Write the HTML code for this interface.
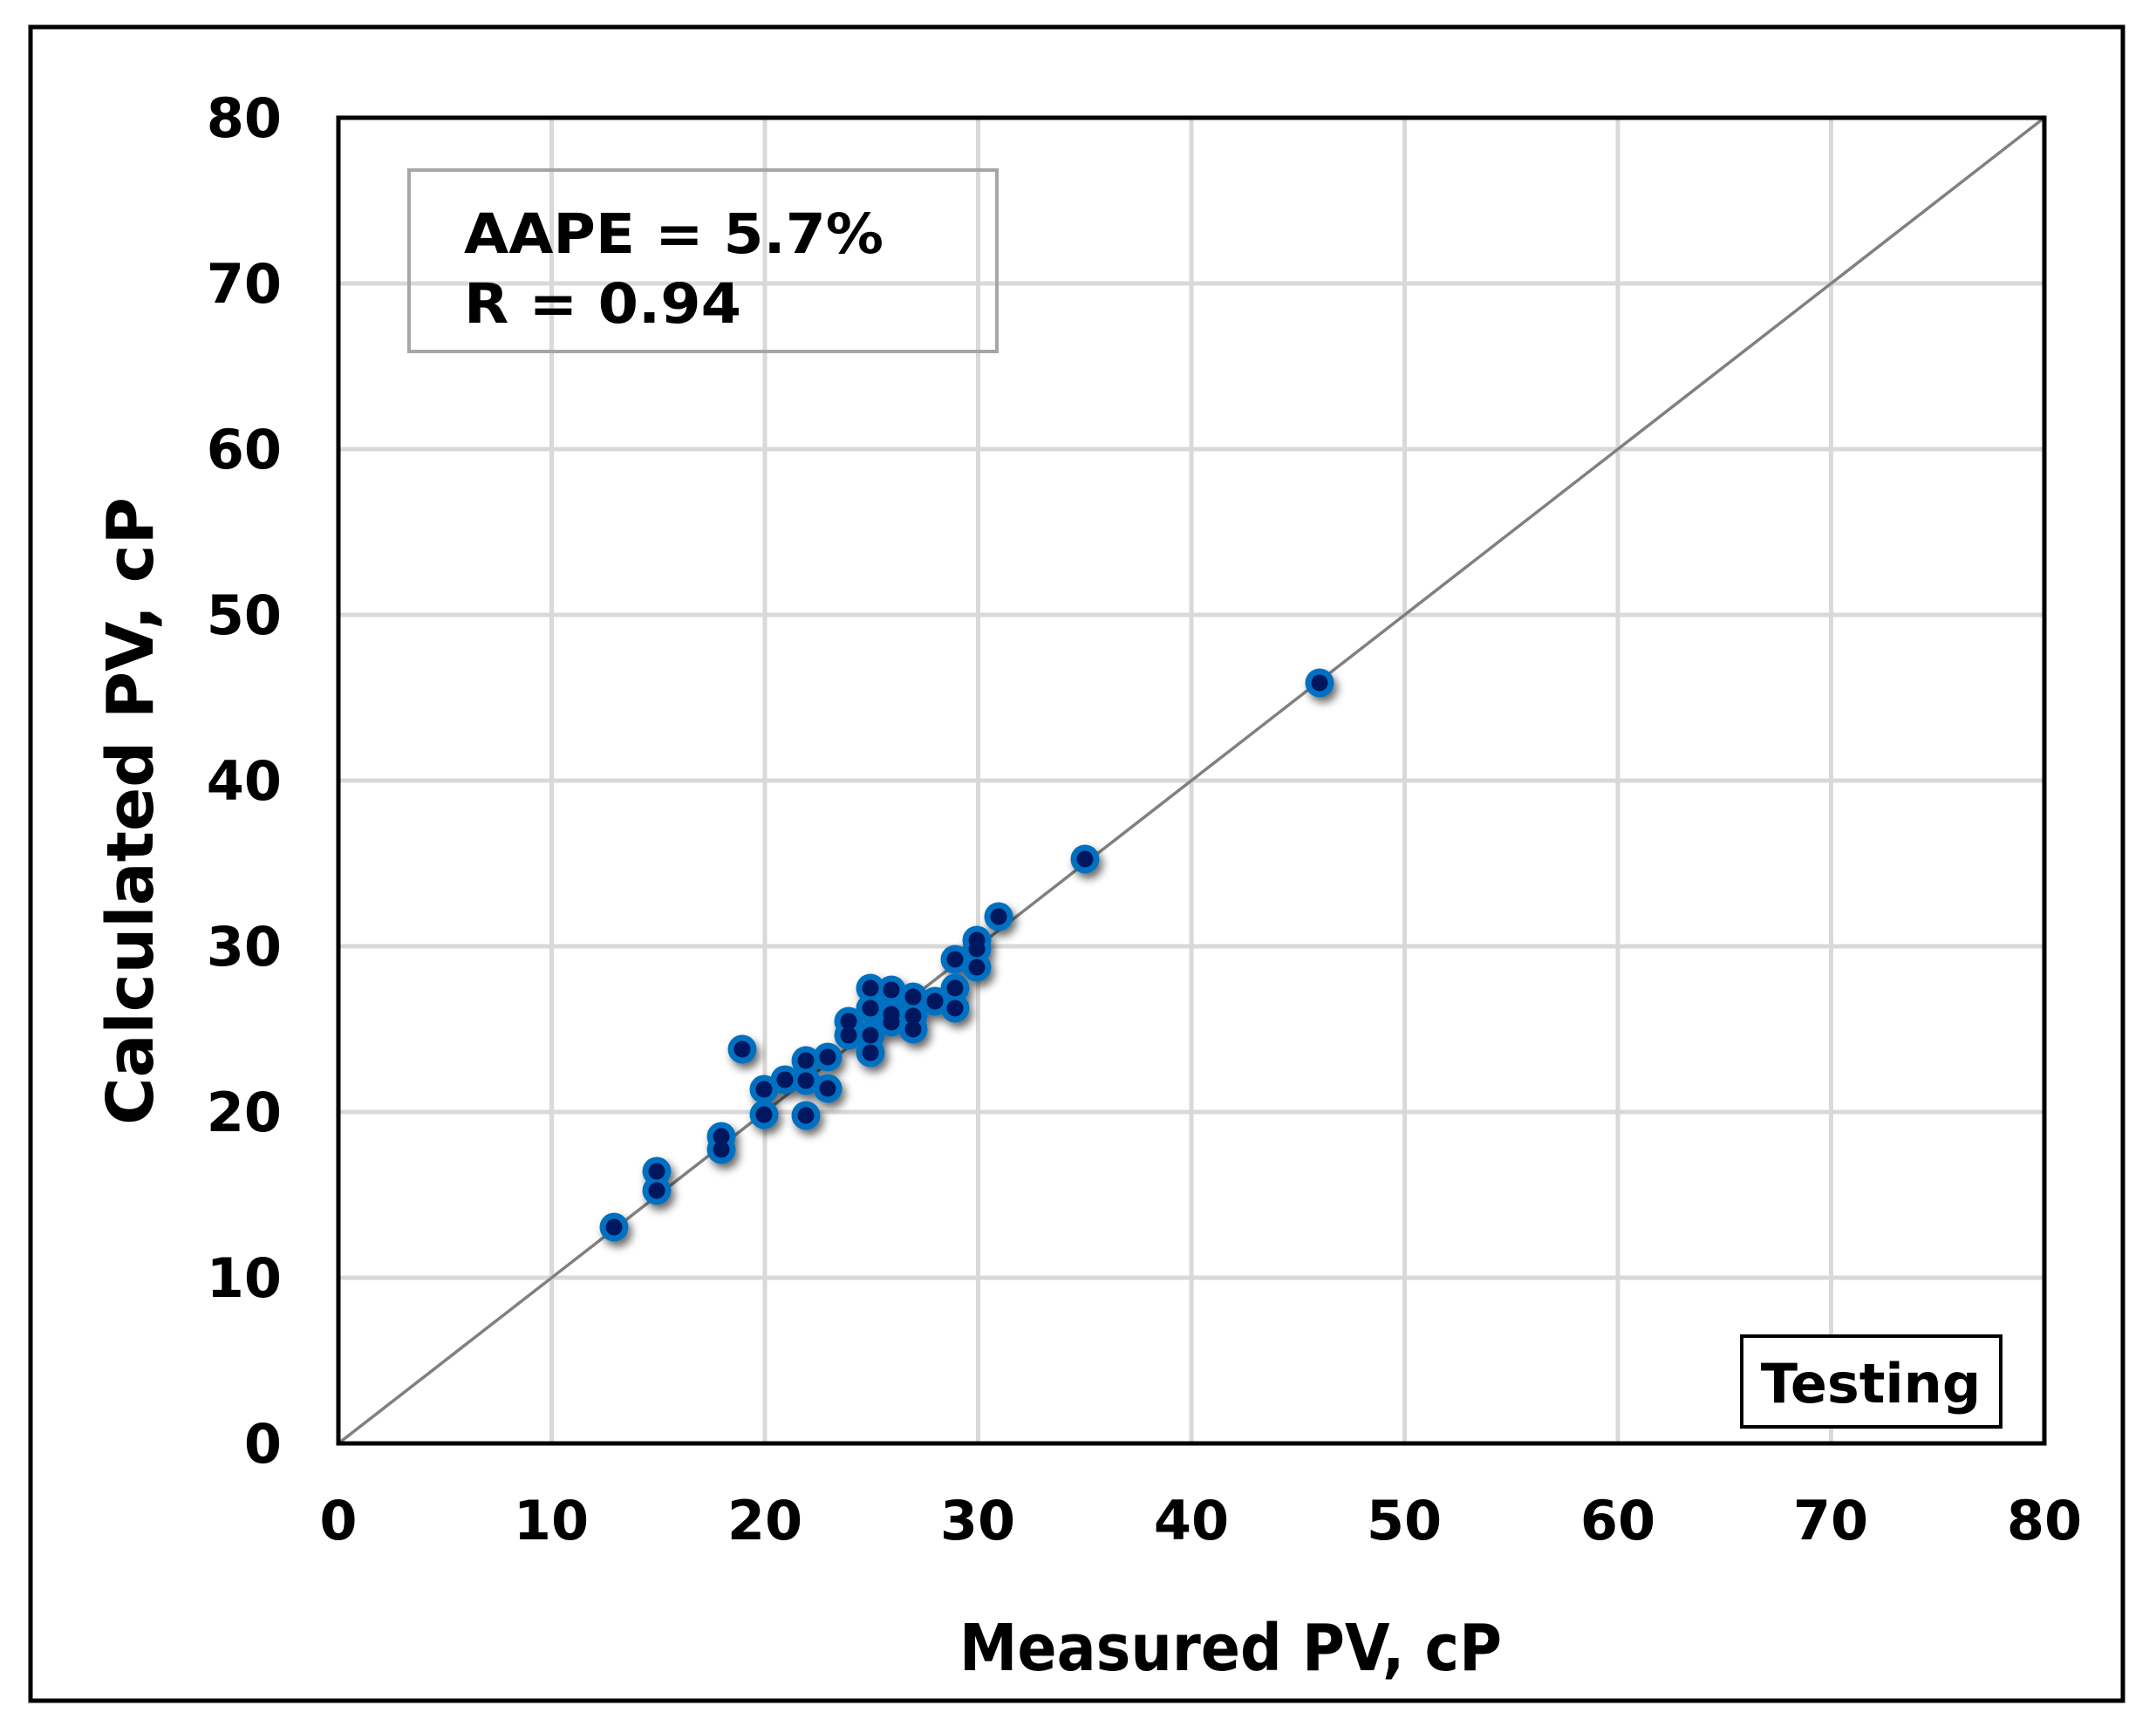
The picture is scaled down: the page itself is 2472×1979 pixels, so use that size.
<!DOCTYPE html>
<html><head><meta charset="utf-8"><style>
html,body{margin:0;padding:0;background:#fff;}
svg{display:block;}
text{font-family:"DejaVu Sans","Liberation Sans",sans-serif;font-weight:bold;fill:#000;}
</style></head><body>
<svg width="2472" height="1979" viewBox="0 0 2472 1979" xmlns="http://www.w3.org/2000/svg">
<defs>
<filter id="sh" x="-50%" y="-50%" width="200%" height="200%">
<feGaussianBlur in="SourceAlpha" stdDeviation="5"/>
<feOffset dx="4" dy="6"/>
<feComponentTransfer><feFuncA type="linear" slope="0.6"/></feComponentTransfer>
<feMerge><feMergeNode/><feMergeNode in="SourceGraphic"/></feMerge>
</filter>
</defs>
<rect x="0" y="0" width="2472" height="1979" fill="#fff"/>
<rect x="35" y="31" width="2399" height="1919" fill="none" stroke="#000" stroke-width="5"/>
<g stroke="#d9d9d9" stroke-width="5">
<line x1="632.5" y1="135" x2="632.5" y2="1655"/>
<line x1="877" y1="135" x2="877" y2="1655"/>
<line x1="1121.5" y1="135" x2="1121.5" y2="1655"/>
<line x1="1366" y1="135" x2="1366" y2="1655"/>
<line x1="1610.5" y1="135" x2="1610.5" y2="1655"/>
<line x1="1855" y1="135" x2="1855" y2="1655"/>
<line x1="2099.5" y1="135" x2="2099.5" y2="1655"/>
<line x1="388" y1="325" x2="2344" y2="325"/>
<line x1="388" y1="515" x2="2344" y2="515"/>
<line x1="388" y1="705" x2="2344" y2="705"/>
<line x1="388" y1="895" x2="2344" y2="895"/>
<line x1="388" y1="1085" x2="2344" y2="1085"/>
<line x1="388" y1="1275" x2="2344" y2="1275"/>
<line x1="388" y1="1465" x2="2344" y2="1465"/>
</g>
<line x1="388" y1="1655" x2="2344" y2="135" stroke="#808080" stroke-width="3.5"/>
<rect x="388" y="135" width="1956" height="1520" fill="none" stroke="#000" stroke-width="5"/>
<g filter="url(#sh)" fill="#0070c0">
<circle cx="704" cy="1407" r="16.5"/><circle cx="753" cy="1365" r="16.5"/><circle cx="753" cy="1343" r="16.5"/>
<circle cx="827" cy="1318" r="16.5"/><circle cx="827" cy="1303" r="16.5"/><circle cx="851" cy="1203" r="16.5"/>
<circle cx="876" cy="1278" r="16.5"/><circle cx="876" cy="1249" r="16.5"/><circle cx="900" cy="1238" r="16.5"/>
<circle cx="924" cy="1216" r="16.5"/><circle cx="924" cy="1239" r="16.5"/><circle cx="924" cy="1279" r="16.5"/>
<circle cx="949" cy="1212" r="16.5"/><circle cx="949" cy="1248" r="16.5"/><circle cx="973" cy="1171" r="16.5"/>
<circle cx="973" cy="1187" r="16.5"/><circle cx="998" cy="1133" r="16.5"/><circle cx="998" cy="1156" r="16.5"/>
<circle cx="998" cy="1187" r="16.5"/><circle cx="998" cy="1207" r="16.5"/><circle cx="1022" cy="1135" r="16.5"/>
<circle cx="1022" cy="1163" r="16.5"/><circle cx="1022" cy="1172" r="16.5"/><circle cx="1047" cy="1143" r="16.5"/>
<circle cx="1047" cy="1165" r="16.5"/><circle cx="1047" cy="1180" r="16.5"/><circle cx="1072" cy="1148" r="16.5"/>
<circle cx="1095" cy="1100" r="16.5"/><circle cx="1095" cy="1133" r="16.5"/><circle cx="1095" cy="1156" r="16.5"/>
<circle cx="1120" cy="1078" r="16.5"/><circle cx="1120" cy="1088" r="16.5"/><circle cx="1120" cy="1109" r="16.5"/>
<circle cx="1145" cy="1051" r="16.5"/><circle cx="1244" cy="985" r="16.5"/><circle cx="1513" cy="783" r="16.5"/>
</g>
<g fill="#00175f">
<circle cx="704" cy="1407" r="9.5"/><circle cx="753" cy="1365" r="9.5"/><circle cx="753" cy="1343" r="9.5"/>
<circle cx="827" cy="1318" r="9.5"/><circle cx="827" cy="1303" r="9.5"/><circle cx="851" cy="1203" r="9.5"/>
<circle cx="876" cy="1278" r="9.5"/><circle cx="876" cy="1249" r="9.5"/><circle cx="900" cy="1238" r="9.5"/>
<circle cx="924" cy="1216" r="9.5"/><circle cx="924" cy="1239" r="9.5"/><circle cx="924" cy="1279" r="9.5"/>
<circle cx="949" cy="1212" r="9.5"/><circle cx="949" cy="1248" r="9.5"/><circle cx="973" cy="1171" r="9.5"/>
<circle cx="973" cy="1187" r="9.5"/><circle cx="998" cy="1133" r="9.5"/><circle cx="998" cy="1156" r="9.5"/>
<circle cx="998" cy="1187" r="9.5"/><circle cx="998" cy="1207" r="9.5"/><circle cx="1022" cy="1135" r="9.5"/>
<circle cx="1022" cy="1163" r="9.5"/><circle cx="1022" cy="1172" r="9.5"/><circle cx="1047" cy="1143" r="9.5"/>
<circle cx="1047" cy="1165" r="9.5"/><circle cx="1047" cy="1180" r="9.5"/><circle cx="1072" cy="1148" r="9.5"/>
<circle cx="1095" cy="1100" r="9.5"/><circle cx="1095" cy="1133" r="9.5"/><circle cx="1095" cy="1156" r="9.5"/>
<circle cx="1120" cy="1078" r="9.5"/><circle cx="1120" cy="1088" r="9.5"/><circle cx="1120" cy="1109" r="9.5"/>
<circle cx="1145" cy="1051" r="9.5"/><circle cx="1244" cy="985" r="9.5"/><circle cx="1513" cy="783" r="9.5"/>
</g>
<rect x="469" y="195" width="674" height="208" fill="none" stroke="#a6a6a6" stroke-width="4"/>
<text x="532" y="290" font-size="63" textLength="481" lengthAdjust="spacingAndGlyphs">AAPE = 5.7%</text>
<text x="532" y="370" font-size="63" textLength="318" lengthAdjust="spacingAndGlyphs">R = 0.94</text>
<rect x="1997" y="1532" width="297" height="104" fill="#fff" stroke="#000" stroke-width="4"/>
<text x="2145" y="1608" font-size="62" text-anchor="middle">Testing</text>
<g font-size="62" text-anchor="end">
<text x="323" y="1677">0</text><text x="323" y="1487">10</text><text x="323" y="1297">20</text>
<text x="323" y="1107">30</text><text x="323" y="917">40</text><text x="323" y="727">50</text>
<text x="323" y="537">60</text><text x="323" y="347">70</text><text x="323" y="157">80</text>
</g>
<g font-size="62" text-anchor="middle">
<text x="388" y="1765">0</text><text x="632" y="1765">10</text><text x="877" y="1765">20</text>
<text x="1121" y="1765">30</text><text x="1366" y="1765">40</text><text x="1610" y="1765">50</text>
<text x="1855" y="1765">60</text><text x="2099" y="1765">70</text><text x="2344" y="1765">80</text>
</g>
<text x="1100" y="1915" font-size="74" textLength="622" lengthAdjust="spacingAndGlyphs">Measured PV, cP</text>
<text transform="translate(175,930) rotate(-90)" font-size="74" text-anchor="middle">Calculated PV, cP</text>
</svg>
</body></html>
